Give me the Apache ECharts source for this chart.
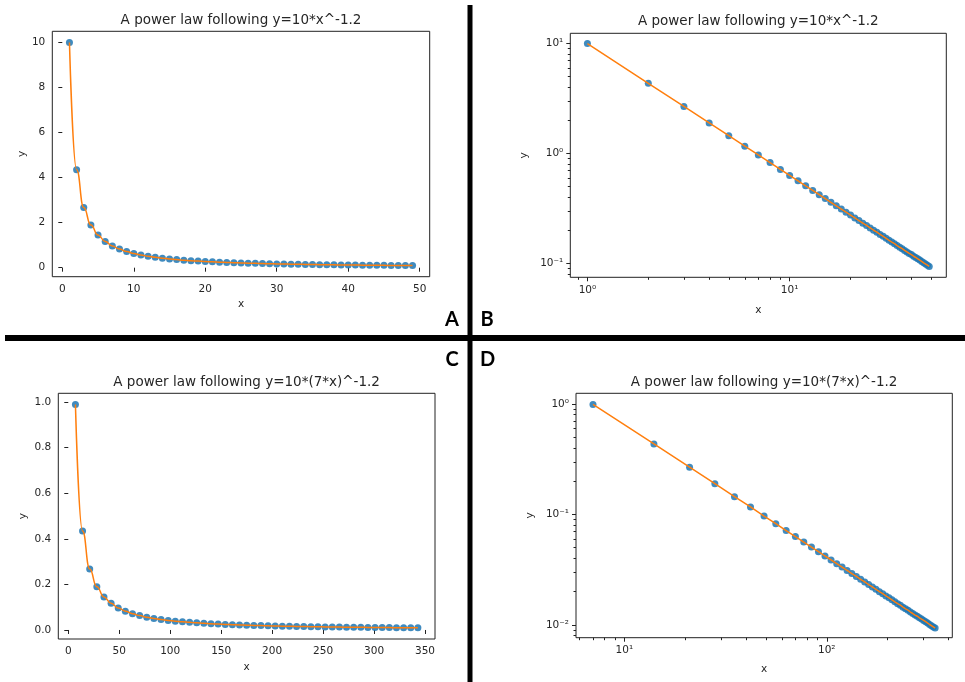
<!DOCTYPE html>
<html><head><meta charset="utf-8">
<script src="https://cdn.jsdelivr.net/npm/echarts@6/dist/echarts.min.js"></script>
<style>html,body{margin:0;padding:0;background:#fff}#c{width:965px;height:682px}</style>
</head><body><div id="c"></div>
<script>
// ---- data ----
const xA = [1,2,3,4,5,6,7,8,9,10,11,12,13,14,15,16,17,18,19,20,21,22,23,24,25,26,27,28,29,30,31,32,33,34,35,36,37,38,39,40,41,42,43,44,45,46,47,48,49];
const yA = [10,4.353,2.676,1.895,1.450,1.165,0.968,0.825,0.716,0.631,0.563,0.507,0.461,0.421,0.388,0.359,0.334,0.312,0.292,0.275,0.259,0.245,0.232,0.221,0.210,0.200,0.192,0.183,0.176,0.169,0.162,0.156,0.151,0.145,0.140,0.136,0.131,0.127,0.123,0.120,0.116,0.113,0.110,0.107,0.104,0.101,0.0985,0.0961,0.0937];
const xC = [7,14,21,28,35,42,49,56,63,70,77,84,91,98,105,112,119,126,133,140,147,154,161,168,175,182,189,196,203,210,217,224,231,238,245,252,259,266,273,280,287,294,301,308,315,322,329,336,343];
const yC = [0.99,0.435,0.268,0.190,0.145,0.117,0.0968,0.0825,0.0716,0.0631,0.0563,0.0507,0.0461,0.0421,0.0388,0.0359,0.0334,0.0312,0.0292,0.0275,0.0259,0.0245,0.0232,0.0221,0.0210,0.0200,0.0192,0.0183,0.0176,0.0169,0.0162,0.0156,0.0151,0.0145,0.0140,0.0136,0.0131,0.0127,0.0123,0.0120,0.0116,0.0113,0.0110,0.0107,0.0104,0.0101,0.00985,0.00961,0.00937];

const titleAB = 'A power law following y=10*x^-1.2';
const titleCD = 'A power law following y=10*(7*x)^-1.2';
const panelLetters = ['A','B','C','D'];

const ticksAx = [0,10,20,30,40,50];
const ticksAy = [0,2,4,6,8,10];
const ticksBx = [1,10];
const ticksBy = [0.1,1,10];
const minorBx = [0.9,2,3,4,5,6,7,8,9,20,30,40,50];
const minorBy = [0.08,0.09,0.2,0.3,0.4,0.5,0.6,0.7,0.8,0.9,2,3,4,5,6,7,8,9];
const ticksCx = [0,50,100,150,200,250,300,350];
const ticksCy = [0,0.2,0.4,0.6,0.8,1.0];
const ticksDx = [10,100];
const ticksDy = [0.01,0.1,1];
const minorDx = [6,7,8,9,20,30,40,50,60,70,80,90,200,300,400];
const minorDy = [0.008,0.009,0.02,0.03,0.04,0.05,0.06,0.07,0.08,0.09,0.2,0.3,0.4,0.5,0.6,0.7,0.8,0.9];

// ---- styling ----
const FONT = 'DejaVu Sans';
const TXT = '#262626';
const AX = '#222';
const BLUE = '#1f77b4';
const ORANGE = '#ff7f0e';
const FS = 10.5;

const sup = {'0':'⁰','1':'¹','2':'²','3':'³','-':'⁻'};
function logFmt(v){
  const e = Math.round(Math.log10(v));
  return '10' + String(e).split('').map(c => sup[c]).join('');
}

const panels = [
  {grid:{left:52.3,top:31.3,width:377.4,height:245.4}, type:'value', xr:[-1.4,51.4], yr:[-0.4,10.5],
   xt:ticksAx, yt:ticksAy, xf:v=>String(v), yf:v=>String(v), x:xA, y:yA, title:titleAB, ty:20.7,
   xGap:22, yGap:24, smooth:true},
  {grid:{left:570.3,top:33.3,width:376,height:244}, type:'log', xr:[0.823,59.5], yr:[0.0746,12.4],
   xt:ticksBx, yt:ticksBy, xm:minorBx, ym:minorBy, xf:logFmt, yf:logFmt, x:xA, y:yA, title:titleAB, ty:21.3,
   xGap:27, yGap:41, smooth:false},
  {grid:{left:58.3,top:393.3,width:376.7,height:245.7}, type:'value', xr:[-9.8,359.8], yr:[-0.0396,1.039],
   xt:ticksCx, yt:ticksCy, xf:v=>String(v), yf:v=>v.toFixed(1), x:xC, y:yC, title:titleCD, ty:382.7,
   xGap:23, yGap:30, smooth:true},
  {grid:{left:576,top:393.3,width:376.3,height:244.4}, type:'log', xr:[5.77,417], yr:[0.00767,1.25],
   xt:ticksDx, yt:ticksDy, xm:minorDx, ym:minorDy, xf:logFmt, yf:logFmt, x:xC, y:yC, title:titleCD, ty:382.3,
   xGap:26, yGap:40, smooth:false}
];

const grids = [], xAxes = [], yAxes = [], series = [], graphics = [];
panels.forEach((p, i) => {
  grids.push(Object.assign({show:true, borderColor:AX, borderWidth:1, backgroundColor:'transparent', containLabel:false}, p.grid));
  const base = (dim, r, ticks, fmt, name, gap) => ({
    type:p.type, gridIndex:i, min:r[0], max:r[1], position: dim==='x'?'bottom':'left',
    name:name, nameLocation:'middle', nameGap:gap,
    nameTextStyle:{fontFamily:FONT, fontSize:FS, color:TXT},
    axisLine:{show:false}, splitLine:{show:false}, minorTick:{show:false},
    axisTick:{show:true, inside:false, length:4, lineStyle:{color:AX, width:1}, customValues:ticks},
    axisLabel:{show:true, margin:7, fontFamily:FONT, fontSize:FS, color:TXT, customValues:ticks,
      formatter:fmt, showMinLabel:true, showMaxLabel:true, hideOverlap:false}
  });
  const xi = xAxes.length;
  xAxes.push(base('x', p.xr, p.xt, p.xf, 'x', p.xGap));
  const yi = yAxes.length;
  yAxes.push(base('y', p.yr, p.yt, p.yf, 'y', p.yGap));
  if (p.xm) {
    const m = base('x', p.xr, p.xm, p.xf, '', 0);
    m.axisLabel = {show:false}; m.axisTick.length = 2.5; m.name = '';
    xAxes.push(m);
  }
  if (p.ym) {
    const m = base('y', p.yr, p.ym, p.yf, '', 0);
    m.axisLabel = {show:false}; m.axisTick.length = 2.5; m.name = '';
    yAxes.push(m);
  }
  const pts = p.x.map((v, k) => [v, p.y[k]]);
  series.push({type:'scatter', xAxisIndex:xi, yAxisIndex:yi, data:pts, symbol:'circle', symbolSize:7,
    itemStyle:{color:BLUE, opacity:0.85}, z:2, silent:true});
  series.push({type:'line', xAxisIndex:xi, yAxisIndex:yi, data:pts, showSymbol:false, symbol:'none',
    smooth:p.smooth, smoothMonotone:'x', lineStyle:{color:ORANGE, width:1.5}, z:3, silent:true});
  graphics.push({type:'text', x:p.grid.left + p.grid.width/2, y:p.ty,
    style:{text:p.title, fontFamily:FONT, fontSize:13.5, fill:TXT, textAlign:'center', textVerticalAlign:'middle'}});
});

// dividers and panel letters
graphics.push({type:'rect', shape:{x:467.5, y:5, width:5, height:677}, style:{fill:'#000'}});
graphics.push({type:'rect', shape:{x:5, y:335, width:960, height:6}, style:{fill:'#000'}});
const letterPos = [[452,319.5],[487,319.5],[452,360],[487.5,360]];
panelLetters.forEach((t, k) => graphics.push({type:'text', x:letterPos[k][0], y:letterPos[k][1],
  style:{text:t, fontFamily:'Lato', fontWeight:'bold', fontSize:20, fill:'#000', textAlign:'center', textVerticalAlign:'middle'}}));

const chart = echarts.init(document.getElementById('c'), null, {renderer:'canvas'});
chart.setOption({
  animation:false, backgroundColor:'#fff',
  grid:grids, xAxis:xAxes, yAxis:yAxes, series:series, graphic:graphics
});
</script></body></html>
